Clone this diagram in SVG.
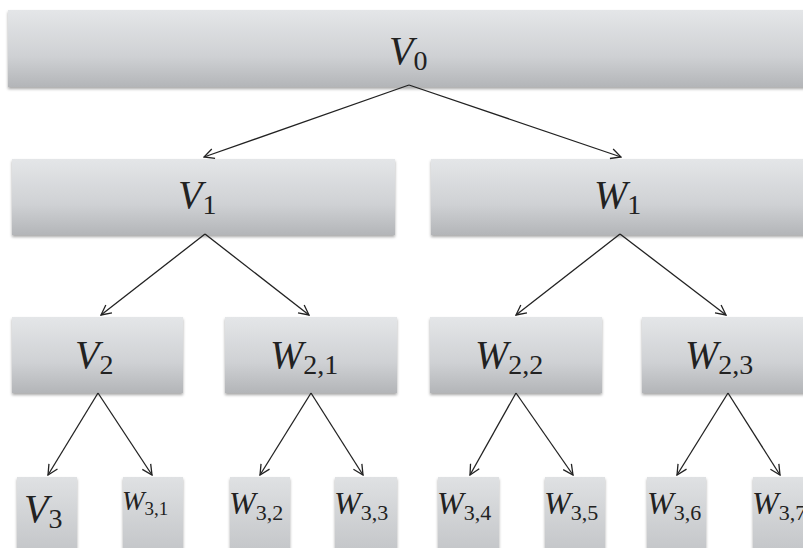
<svg xmlns="http://www.w3.org/2000/svg" width="803" height="548" viewBox="0 0 803 548">
<defs>
<linearGradient id="g" x1="0" y1="0" x2="0" y2="1">
<stop offset="0" stop-color="#e4e6e8"/>
<stop offset="0.6" stop-color="#cfd1d4"/>
<stop offset="1" stop-color="#b3b5b8"/>
</linearGradient>
<linearGradient id="g3" x1="0" y1="0" x2="0" y2="1">
<stop offset="0" stop-color="#dfe1e3"/>
<stop offset="1" stop-color="#c2c4c7"/>
</linearGradient>
<filter id="sh" x="-5%" y="-10%" width="110%" height="125%">
<feGaussianBlur in="SourceAlpha" stdDeviation="1.5"/>
<feOffset dx="0" dy="2" result="b"/>
<feComponentTransfer><feFuncA type="linear" slope="0.35"/></feComponentTransfer>
<feMerge><feMergeNode/><feMergeNode in="SourceGraphic"/></feMerge>
</filter>
<marker id="ah" viewBox="0 0 12 12" refX="11" refY="6" markerWidth="12" markerHeight="12" markerUnits="userSpaceOnUse" orient="auto">
<path d="M1,1 L11,6 L1,11" fill="none" stroke="#222" stroke-width="1.3"/>
</marker>
</defs>
<style>
.b{fill:url(#g);filter:url(#sh)}
.b3{fill:url(#g3);filter:url(#sh)}
.t{font-family:"Liberation Serif","DejaVu Serif",serif;font-style:italic;font-size:40px;fill:#222}
.s{font-style:normal;font-size:28px}
.t3{font-family:"Liberation Serif","DejaVu Serif",serif;font-style:italic;font-size:32px;fill:#222}
.s3{font-style:normal;font-size:22px}
.c line{stroke:#222;stroke-width:1.3;marker-end:url(#ah)}
</style>
<rect width="803" height="548" fill="#fff"/>
<g id="n-V0"><rect class="b" x="8" y="10" width="810" height="77"/><text class="t" x="389" y="64">V<tspan class="s" dy="6">0</tspan></text></g>
<g id="n-V1"><rect class="b" x="12" y="159" width="383" height="76"/><text class="t" x="178" y="208">V<tspan class="s" dy="6">1</tspan></text></g>
<g id="n-W1"><rect class="b" x="431" y="159" width="390" height="76"/><text class="t" x="594" y="208">W<tspan class="s" dy="6">1</tspan></text></g>
<g id="n-V2"><rect class="b" x="12" y="317" width="171" height="76"/><text class="t" x="75" y="368">V<tspan class="s" dy="6">2</tspan></text></g>
<g id="n-W21"><rect class="b" x="225" y="317" width="172" height="76"/><text class="t" x="270" y="368">W<tspan class="s" dy="6">2,1</tspan></text></g>
<g id="n-W22"><rect class="b" x="430" y="317" width="172" height="76"/><text class="t" x="475" y="368">W<tspan class="s" dy="6">2,2</tspan></text></g>
<g id="n-W23"><rect class="b" x="642" y="317" width="172" height="76"/><text class="t" x="685" y="368">W<tspan class="s" dy="6">2,3</tspan></text></g>
<g id="n-V3"><rect class="b3" x="17" y="477" width="60" height="80"/><text class="t" x="24" y="522">V<tspan class="s" dy="6">3</tspan></text></g>
<g id="n-W31"><rect class="b3" x="123" y="477" width="60" height="80"/><text class="t3" x="122" y="510" style="font-size:27px">W<tspan class="s3" dy="5" style="font-size:19px">3,1</tspan></text></g>
<g id="n-W32"><rect class="b3" x="230" y="477" width="60" height="80"/><text class="t3" x="229" y="514">W<tspan class="s3" dy="6">3,2</tspan></text></g>
<g id="n-W33"><rect class="b3" x="335" y="477" width="62" height="80"/><text class="t3" x="334" y="514">W<tspan class="s3" dy="6">3,3</tspan></text></g>
<g id="n-W34"><rect class="b3" x="438" y="477" width="61" height="80"/><text class="t3" x="437" y="514">W<tspan class="s3" dy="6">3,4</tspan></text></g>
<g id="n-W35"><rect class="b3" x="545" y="477" width="60" height="80"/><text class="t3" x="544" y="514">W<tspan class="s3" dy="6">3,5</tspan></text></g>
<g id="n-W36"><rect class="b3" x="647" y="477" width="59" height="80"/><text class="t3" x="647" y="514">W<tspan class="s3" dy="6">3,6</tspan></text></g>
<g id="n-W37"><rect class="b3" x="753" y="477" width="60" height="80"/><text class="t3" x="752" y="514">W<tspan class="s3" dy="6">3,7</tspan></text></g>
<g id="connectors" class="c">
<line x1="409" y1="85" x2="204" y2="157"/>
<line x1="409" y1="85" x2="621" y2="157"/>
<line x1="205" y1="234" x2="101" y2="315"/>
<line x1="205" y1="234" x2="309" y2="315"/>
<line x1="620" y1="234" x2="516" y2="315"/>
<line x1="620" y1="234" x2="726" y2="315"/>
<line x1="98" y1="393" x2="48" y2="475"/>
<line x1="98" y1="393" x2="152" y2="475"/>
<line x1="311" y1="393" x2="260" y2="475"/>
<line x1="311" y1="393" x2="363" y2="475"/>
<line x1="516" y1="393" x2="470" y2="475"/>
<line x1="516" y1="393" x2="573" y2="475"/>
<line x1="728" y1="393" x2="677" y2="475"/>
<line x1="728" y1="393" x2="780" y2="475"/>
</g>
</svg>
